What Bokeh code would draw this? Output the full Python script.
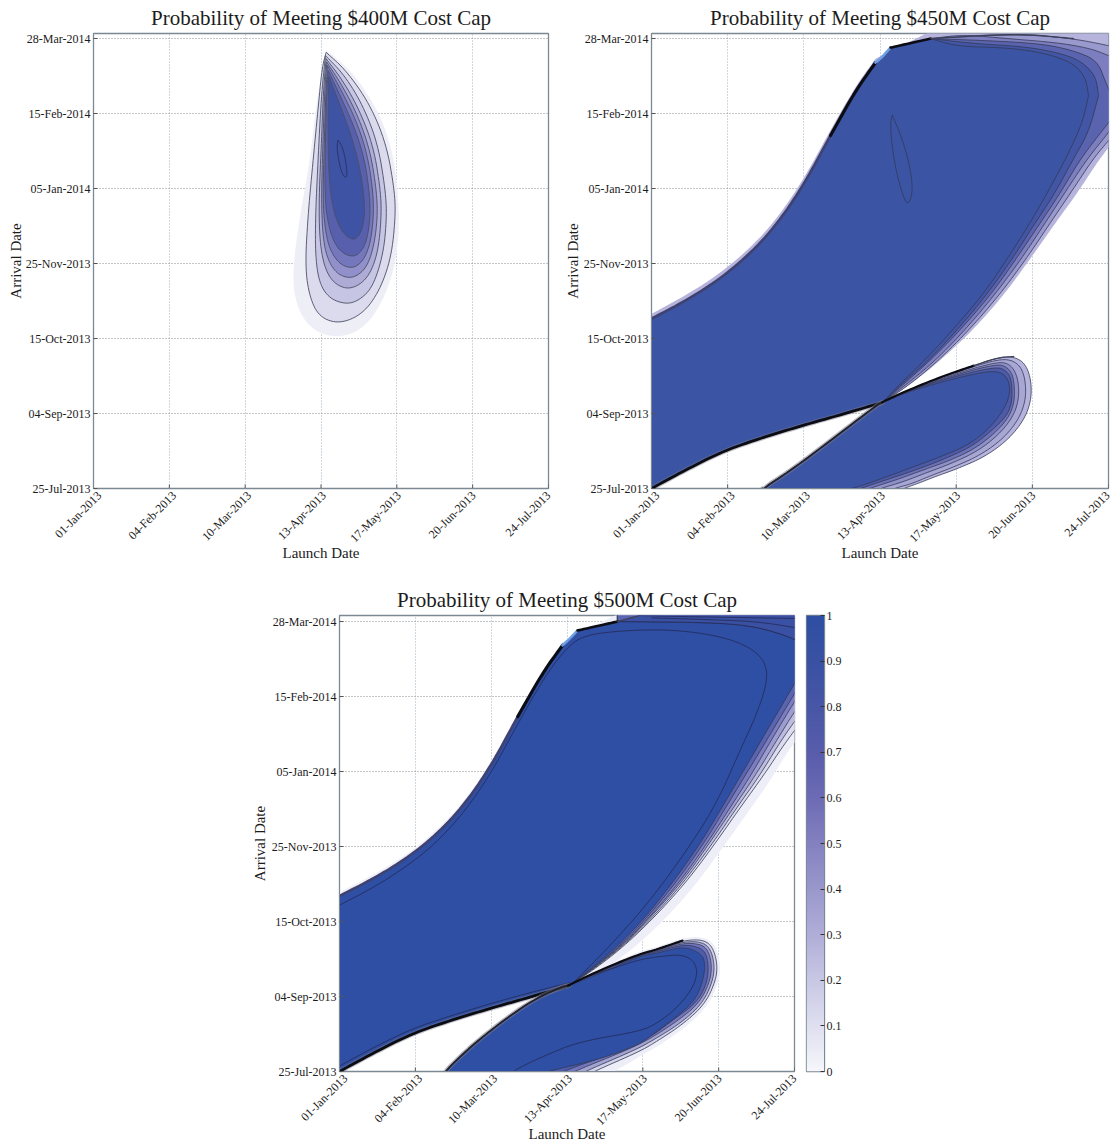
import math
import numpy as np
from bokeh.plotting import figure
from bokeh.layouts import column, row, Spacer
from bokeh.models import Range1d, FixedTicker, LinearColorMapper
from bokeh.embed import file_html
from bokeh.resources import INLINE

LAUNCH_TICKS = [0, 34, 68, 102, 136, 170, 204]
LAUNCH_LABELS = ["01-Jan-2013", "04-Feb-2013", "10-Mar-2013", "13-Apr-2013", "17-May-2013", "20-Jun-2013", "24-Jul-2013"]
ARRIVAL_TICKS = [0, 41, 82, 123, 164, 205, 246]
ARRIVAL_LABELS = ["25-Jul-2013", "04-Sep-2013", "15-Oct-2013", "25-Nov-2013", "05-Jan-2014", "15-Feb-2014", "28-Mar-2014"]
TITLES = ["Probability of Meeting $400M Cost Cap", "Probability of Meeting $450M Cost Cap", "Probability of Meeting $500M Cost Cap"]
CBAR_TICKS = [0, .1, .2, .3, .4, .5, .6, .7, .8, .9, 1]
CBAR_LABELS = ["0", "0.1", "0.2", "0.3", "0.4", "0.5", "0.6", "0.7", "0.8", "0.9", "1"]
CBAR_COLORS = ["#f6f6fb", "#dfdff0", "#c8c7e4", "#b0aed8", "#9a97cc", "#8481c1", "#6d6bb5", "#585cab", "#4856a6", "#3a51a3", "#2e4fa3"]

# ---- $400M: contours in (days after 01-Jan-2013, days after 25-Jul-2013), outer to inner
P400_HALO = [(104.3,239.5),(114.8,229.5),(126,210.4),(133.5,188.5),(136.9,159.4),(136.9,133.9),(132.7,110.3),(123.8,90.2),(111.8,82),(98.4,85.7),(90.9,99.3),(89.1,117.5),(92.4,148.5),(96.9,177.6),(99.8,210.4),(104.3,239.5)]
P400_C1 = [(104.3,238.5),(113.3,228.6),(123.8,210.4),(131.3,188.4),(135,162.9),(135.4,148.4),(133.5,126.4),(128.3,108.2),(120.8,95.5),(110.3,90),(101.3,93.7),(96.9,104.6),(94.9,121),(96.1,148.4),(98.3,177.5),(100.6,206.6),(102.5,230.3),(104.3,238.5)]
P400_C2 = [(104,236.8),(112.6,225.9),(120.8,209.5),(127.5,188.5),(130.9,163.1),(131.5,148.5),(130,128.5),(125.3,110.3),(119.3,103),(113.3,100.7),(105.8,103.9),(101.3,112.1),(99.5,126.6),(99.5,148.5),(100.6,177.6),(102.1,214),(104,236.8)]
P400_C3 = [(104.3,235),(111.8,223.1),(119.3,206.8),(125.6,186.7),(128.7,163.1),(129.1,148.5),(127.5,128.5),(123,114.8),(115.5,108.8),(108.8,111.2),(104.3,118.4),(101.6,132.1),(101,155.8),(102.1,186.7),(103.1,217.7),(104.3,235)]
P400_C4 = [(104.6,233.2),(111.5,220.4),(118.5,204),(124,184.9),(126.9,163.1),(127.4,148.5),(125.7,132.1),(122.3,120.3),(116.3,114.8),(110,116.6),(105.8,123),(103.1,133.9),(102.1,155.8),(102.8,186.7),(103.7,219.5),(104.6,233.2)]
P400_C5 = [(104.9,231.3),(111.1,217.7),(117.8,201.3),(122.7,183.1),(125.3,163.1),(125.6,148.5),(124.1,133.9),(121.1,124.8),(116.6,120.3),(111.1,122.1),(107,128.1),(104.3,137.6),(102.8,155.8),(103.4,186.7),(104.2,217.7),(104.9,231.3)]
P400_C6 = [(105.2,228.6),(110.6,214.9),(117,197.6),(121.5,180.4),(123.8,161.2),(124.1,148.5),(122.6,135.7),(120,129.4),(116.6,126.6),(111.8,128.5),(108.1,133.9),(105.5,143),(103.7,157.6),(103.9,186.7),(104.5,215.9),(105.2,228.6)]
P400_C7 = [(105.5,225.4),(110,211.3),(115.9,192.2),(119.7,174),(121.7,155.8),(121.2,144.8),(119.3,138.5),(116.6,135.7),(112.6,138.5),(109.1,145.8),(106.6,157.6),(105.4,174),(105.1,199.5),(105.5,225.4)]
P400_C8 = [(109.6,190.5),(111.6,187),(112.9,180.4),(113.8,172.2),(113.2,169.5),(111.2,172.5),(109.8,180.4),(109.1,186.7),(109.6,190.5)]
P400_FILLS = ["#dcdbee", "#c6c5e3", "#aeacd7", "#9290ca", "#7577bd", "#5860ae", "#3f53a4", "#3d52a4"]

# ---- shared edges of the feasible region
EDGE_OUT = [(-3,93),(0,95.5),(12.9,104),(26.3,114),(39.7,126.6),(53.1,143),(66.5,166),(79.9,196),(91.1,220),(100,235)]
EDGE = [(-3,91),(0,92.9),(12.9,101.1),(26.3,111),(39.7,123.6),(53.1,140),(66.5,162.9),(79.9,193),(91.1,217.6),(100,232.9),(102.7,235.6),(106.7,241.1),(124.6,246)]
LOWER = [(103.1,47),(85,40.5),(67.3,34.4),(50,28),(32.7,20.8),(15,10),(0,0),(-3,-2)]

# ---- $450M: main region, right-hand contours
R450_O = [(208,192.8),(204,186.4),(198.9,178.2),(190.2,161.8),(179.5,143.8),(169.2,125.8),(157.1,105.5),(143.3,86.4),(129,70),(115.6,56.9),(103.1,47)]
R450_1 = [(208,196),(204,190.2),(197.2,180.4),(188.4,164),(177.2,143.8),(167.4,125.8),(155.8,106.6),(142.4,87.5),(128.1,70),(114.7,56.3),(103.1,47)]
R450_2 = [(208,202),(204,194.6),(194.6,180.4),(185.7,164),(175,143.8),(165.2,125.8),(154,107.2),(140.6,87.5),(126.8,70),(113.8,56.9),(103.1,47)]
R450_3 = [(208,206),(204,200),(191.5,180.4),(182.6,161.8),(172.8,143.8),(162.9,125.8),(152.2,107.2),(139.3,88.6),(125.4,71.1),(112.9,57.4),(103.1,47)]
R450_4 = [(199.6,214.9),(195.1,194.6),(188.4,180.4),(179.5,160.2),(170.5,143.8),(161.2,125.8),(150.4,107.2),(137.9,88.6),(124.6,71.1),(112.5,58),(103.1,47)]
R450_5 = [(195.1,214.9),(192.4,200.1),(185.7,182.1),(176.8,161.8),(168.3,143.8),(158.9,125.8),(148.7,107.2),(136.2,89.1),(123.7,72.2),(111.6,58),(103.1,47)]
T450_O = [(124.6,250),(155,252),(208,252)]
T450_1 = [(124.6,246),(163.4,248.8),(188.4,246),(204,242.2),(208,241)]
T450_2 = [(124.6,246),(139.3,248.2),(158.9,246),(181.3,243.8),(196,240.6),(204,236.7),(208,235)]
T450_3 = [(124.6,246),(148.2,245),(173.7,243.3),(188.4,239.5),(199.1,234),(202.7,222),(208,208)]
T450_4 = [(124.6,246),(143.8,243.3),(166.1,241.7),(181.3,238.4),(191.5,234),(198.2,225.8),(199.6,214.9)]
T450_5 = [(124.6,246),(136.6,241.7),(158.9,241.1),(176.8,237.8),(188.4,232.4),(193.8,224.7),(195.1,214.9)]
P450_FILLS = ["#b6b4dc", "#9a99ce", "#7d7ebf", "#5a63ae", "#4256a5", "#3b54a3"]
P450_SPOT = [(107.5,204.3),(111.9,191.2),(114.9,178.4),(116.8,163.9),(114.9,155.1),(112.6,158.4),(108.9,174.8),(107,191.2),(106.7,200.3),(107.5,204.3)]
# $450M lower lobe
W450 = [(49.6,0),(49.6,-3),(49.6,0),(62.1,9.8),(79.9,26.2),(100.4,45.4),(103,47.2)]
L450_O = [(103,47.2),(114.2,53.6),(129,60.9),(143.9,67.2),(154.3,71.5),(161.7,72.2),(167,68.2),(169.5,59),(169.5,48.1),(166.2,37.2),(158.8,26.2),(148.4,17.1),(136.5,10.8),(126,6.2),(118.6,2.6),(112.5,0),(108,-3)]
L450_2 = [(103,47.2),(114.2,53.5),(129,60.7),(143.9,66.7),(154.3,70.4),(160.5,70.5),(165,66.5),(167,58.5),(167,48),(163.8,37.5),(156.8,27),(146.8,18.3),(135.5,12),(125,7.2),(116,2.5),(108,0),(104,-3)]
L450_3 = [(103,47.2),(114.2,53.4),(129,60),(143.9,65.8),(154.3,69),(158.8,68.6),(162,65),(163.9,58),(163.9,47.6),(160.8,38),(154.2,28.5),(145,20),(133.5,13.5),(122.5,8.5),(112,3.5),(102,0),(98,-3)]
L450_4 = [(103,47.2),(114.2,53.2),(129,59.5),(143.9,65),(154.3,67.8),(157.8,67),(160.8,63.5),(162,57),(162,47),(159.3,38.5),(153,30),(144,21.5),(132.5,15),(121,10),(110,5),(97,0),(93,-3)]
L450_5 = [(103,47.2),(114.2,53),(129,59),(143.9,64),(154.3,66.3),(157.5,65),(160,62),(161,55.5),(160.8,46.5),(158.5,39.5),(152,31.8),(143,23),(131.5,16.5),(120,11),(108,6),(93,0),(89,-3)]
L450_6 = [(105.2,48.1),(114.2,52.7),(129,58.1),(143.9,62.7),(154.3,64.5),(158.8,60.9),(160.3,53.6),(158,44.4),(151.3,33.5),(142.4,24.4),(130.5,18),(118.6,12.6),(106.7,7.1),(91.8,0.7),(88.8,0),(85,-3)]
L450_FILLS = ["#b6b4dc", "#a8a7d4", "#8f90c8", "#6d72b7", "#4c5aa8", "#3b54a3"]

# ---- $500M: main region
EDGE3_OUT = [(-3,96),(0,98),(12.9,106),(26.3,115.5),(39.7,127.5),(53.1,143.5),(66.5,166),(79.9,196),(91.1,220),(100,235)]
EDGE3 = [(-3,94),(0,96),(12.9,104),(26.3,113.5),(39.7,125.5),(53.1,141.5),(66.5,164),(79.9,194),(91.1,218),(100,233),(102.7,236),(106.7,241.1),(124.6,246)]
F500_0 = [(208,184),(204,180),(199.5,172),(192,157),(181.5,139),(171,121),(159,101),(145,82),(130.5,66),(117,54),(103.1,47)]
F500_1 = [(208,192.8),(204,186.4),(198.9,178),(190.2,162),(179.5,144),(169.2,126),(157.1,106),(143.3,87),(129,70),(115.6,57),(103.1,47)]
F500_2 = [(208,198),(204,191.4),(197.5,180),(188.5,162),(178,144),(168,126),(156,106),(142.5,87),(128.5,70),(115,57),(103.1,47)]
F500_3 = [(208,203),(204,196.8),(195.5,180),(186.5,162),(176.5,144),(166.5,126),(155,106),(141.5,87),(128,70),(114.5,57),(103.1,47)]
F500_4 = [(208,209),(204,202.3),(193,180),(184.5,162),(175,144),(165.5,126),(154,106),(141,87),(127.5,70),(114.3,57),(103.1,47)]
F500_5 = [(208,214),(204,206.7),(191,180),(182,162),(173,144),(164,126),(152.5,106),(140,87),(127,70),(114,57),(103.1,47)]
F500_6 = [(208,220),(204,212),(188.6,180),(180,162),(171.3,144),(162.5,126),(151,106),(139,87),(126,70),(113.5,57),(103.1,47)]
T500_0 = [(124.6,250),(155,252),(208,252)]
T500_4 = [(134.5,249.3),(149.3,248.8),(203.6,247.7),(208,247.5)]
T500_5 = [(140,248),(164.6,247.1),(187,246),(204,242.8),(208,241.5)]
T500_6 = [(124.6,246),(167.3,245.5),(187,243.3),(204,236.7),(208,233)]
T500_CAP = [(208,252),(136,252),(134.5,249.3),(124.6,246)]
P500_FILLS = ["#eeeef8", "#dcdcee", "#bdbcde", "#9d9cd0", "#7c7dc0", "#5a64b0", "#2e4fa3"]
C500_INNER = [(-3,89),(0,91),(12.9,99),(26.3,109),(39.7,121),(53.1,137.5),(66.5,160),(79.9,190),(91.1,214),(100,229),(108,238),(125,241),(149.3,241.7),(171.7,237.8),(185.2,231.3),(191.5,222.5),(191.5,211.6),(187,195.2),(179.4,175),(169.5,147.6),(157,123),(139,92.9),(121,68.3),(105.4,49.2)]
C500_LOWER = [(103,48.5),(85,43),(67.3,37),(50,30.5),(32.7,23.5),(15,13),(0,3),(-3,1)]
# $500M lower lobe
W500 = [(47,-3),(47,0),(62.8,18),(85.2,38.3),(100,46.5),(102.5,47)]
L500_H = [(102.5,47),(116,56),(134,65.5),(142.2,68),(153.8,73),(163,73.8),(168.5,69.5),(171,58.5),(170,48.5),(165,35.5),(155,24),(143,14),(135,8.5),(119,-3)]
L500_O = [(102.5,47),(116,55),(134,64),(142.2,66.7),(153.8,71.6),(162.8,72.2),(167.3,68.3),(169.5,58.5),(168.6,49.2),(163.7,36.6),(153.8,25.7),(142.2,16.4),(134.5,10.9),(114,0),(110,-3)]
L500_2 = [(102.5,47),(116,54.7),(134,63.6),(142.2,66.3),(153.8,70.9),(162,71),(166.2,67.5),(168.2,58.5),(167.3,49),(162.5,36.8),(152.8,26.3),(141,17.4),(133,12),(110,0),(106,-3)]
L500_3 = [(102.5,47),(116,54.4),(134,63.4),(142.2,65.9),(153.8,70.2),(161.3,69.8),(165.2,66.8),(167,58),(166,48.8),(161.2,37.2),(151.5,27.6),(140,18.5),(130.5,12.5),(105,0),(101,-3)]
L500_4 = [(102.5,47),(116,54),(134,63.2),(142.2,65.4),(153.8,69.4),(160.8,68.2),(164.3,65),(165.5,57.5),(164.8,48.5),(160.5,38),(150,28.5),(139,18.5),(126,11.5),(100,0),(96,-3)]
L500_6 = [(102.5,47),(116,53),(134,62.9),(143.5,65),(153.8,68.3),(160.5,65.6),(163.7,61.8),(163.7,53),(160.1,39.9),(152.5,31.2),(142.2,21.9),(134.5,14.8),(116.6,6.6),(92.8,0),(88,-3)]
L500_FILLS = ["#eeeef8", "#d2d2e8", "#a3a3d2", "#7577bd", "#4f5cab", "#2e4fa3"]
C500_LOBE = [(77.1,-3),(77.1,0),(91,8.2),(107.6,16.4),(134.5,21.9),(142.2,26.2),(151.1,34.4),(158.3,45.4),(160.5,53.6),(159.2,60.1),(153.8,64),(143.5,62.9),(134.5,61.2),(121,55.8),(107.6,50.3)]

FONT = "Liberation Serif"
LINE = "#343a58"
INK = "#1c1c1c"


def chaikin(pts, n=3):
    pts = [tuple(q) for q in pts]
    for _ in range(n):
        out = [pts[0]]
        for a, b in zip(pts[:-1], pts[1:]):
            out.append((.75 * a[0] + .25 * b[0], .75 * a[1] + .25 * b[1]))
            out.append((.25 * a[0] + .75 * b[0], .25 * a[1] + .75 * b[1]))
        out.append(pts[-1])
        pts = out
    return pts


def shape(p, chains, fill, line=LINE, lw=0.8):
    pts = []
    for c in chains:
        pts += chaikin(c)
    p.patch([q[0] for q in pts], [q[1] for q in pts], fill_color=fill, line_color=line, line_width=lw)


def stroke(p, pts, color, lw, alpha=1.0):
    s = chaikin(pts)
    p.line([q[0] for q in s], [q[1] for q in s], line_color=color, line_width=lw, line_alpha=alpha, line_cap="round")


def panel(title, frame_w, frame_h, y_end, left, right, top, bottom, xstand, ystand):
    p = figure(output_backend="svg", toolbar_location=None, frame_width=frame_w, frame_height=frame_h,
               x_range=Range1d(0, 204), y_range=Range1d(0, y_end), title=title,
               min_border_left=left, min_border_right=right, min_border_top=top, min_border_bottom=bottom,
               x_axis_label="Launch Date", y_axis_label="Arrival Date")
    p.title.align = "center"
    p.title.text_font = FONT
    p.title.text_font_size = "21px"
    p.title.text_font_style = "normal"
    p.title.text_color = INK
    p.title.standoff = 7
    p.outline_line_color = "#7c8894"
    p.outline_line_width = 1.3
    p.extra_x_ranges = {"labels": Range1d(-2.7, 204)}
    p.xaxis[0].x_range_name = "labels"
    for ax, ticks, labels in ((p.xaxis[0], LAUNCH_TICKS, LAUNCH_LABELS), (p.yaxis[0], ARRIVAL_TICKS, ARRIVAL_LABELS)):
        ax.ticker = FixedTicker(ticks=ticks)
        ax.major_label_overrides = dict(zip(ticks, labels))
        ax.major_label_text_font = FONT
        ax.major_label_text_font_size = "12px"
        ax.major_label_text_color = INK
        ax.axis_label_text_font = FONT
        ax.axis_label_text_font_size = "15px"
        ax.axis_label_text_font_style = "normal"
        ax.axis_label_text_color = INK
        ax.major_tick_in = 4
        ax.major_tick_out = 0
        ax.minor_tick_line_color = None
        ax.major_tick_line_color = "#555555"
        ax.axis_line_color = "#7c8894"
        ax.major_label_standoff = 3
    p.xaxis[0].major_tick_line_color = None
    p.xaxis[0].major_label_orientation = math.pi / 4
    p.xaxis[0].major_label_standoff = 5
    p.xaxis[0].axis_label_standoff = xstand
    p.yaxis[0].axis_label_standoff = ystand
    p.xgrid.grid_line_color = "#9db1c0"
    p.ygrid.grid_line_color = "#8c8c8c"
    for g in (p.xgrid, p.ygrid):
        g.grid_line_dash = "1 2"
        g.grid_line_width = 1
    p.xgrid[0].ticker = FixedTicker(ticks=LAUNCH_TICKS)
    p.segment(LAUNCH_TICKS, [0] * 7, LAUNCH_TICKS, [2.2] * 7, line_color="#555555", line_width=1)
    return p


p1 = panel(TITLES[0], 455, 455, 248.8, 93, 13, 25, 74, -8, -1)
shape(p1, [P400_HALO], "#eeeef7", None, 0)
for c, f in zip([P400_C1, P400_C2, P400_C3, P400_C4, P400_C5, P400_C6, P400_C7], P400_FILLS):
    shape(p1, [c], f, "#4a4f66", 0.9)
shape(p1, [P400_C8], P400_FILLS[7], "#23284a", 0.7)

p2 = panel(TITLES[1], 457, 455, 248.8, 87, 4, 25, 74, -8, 0)
shape(p2, [EDGE_OUT, T450_O, R450_O, LOWER], P450_FILLS[0], None, 0)
for r, t, f in zip([R450_1, R450_2, R450_3, R450_4, R450_5], [T450_1, T450_2, T450_3, T450_4, T450_5], P450_FILLS[1:]):
    shape(p2, [EDGE, t, r, LOWER], f)
shape(p2, [P450_SPOT], P450_FILLS[-1], LINE, 0.8)
for lobe, f in zip([L450_O, L450_2, L450_3, L450_4, L450_5, L450_6], L450_FILLS):
    shape(p2, [lobe, W450], f)


def edges(p, edge, wedge, top_run):
    stroke(p, edge[:8], "#3f4270", 2.6)
    stroke(p, edge[7:10], "#0c0c14", 3.2)
    stroke(p, edge[9:12], "#6f9fe2", 2.6)
    stroke(p, edge[11:13], "#0c0c14", 2.6)
    stroke(p, top_run, "#3c4058", 1.4)
    stroke(p, LOWER, "#77778c", 5, 0.45)
    stroke(p, LOWER, "#0c0c14", 2.8)
    stroke(p, wedge, "#77778c", 4.5, 0.55)
    stroke(p, wedge, "#22222c", 1.8)


edges(p2, EDGE, W450, T450_1[:3])
stroke(p2, L450_O[:4], "#0c0c14", 2.2)
stroke(p2, L450_O[3:6], "#3c4058", 1.2)

p3 = panel(TITLES[2], 455, 456, 249.3, 90, 6, 51, 67, -10, 1)
shape(p3, [EDGE3_OUT, T500_0, F500_0, LOWER], P500_FILLS[0], None, 0)
for r, t, f in zip([F500_1, F500_2, F500_3, F500_4, F500_5, F500_6],
                   [T500_0, T500_0, T500_0, T500_0, T500_0, T500_6], P500_FILLS[1:]):
    shape(p3, [EDGE3, t, r, LOWER], f)
shape(p3, [T500_6, T500_CAP], "#3a50a2", None, 0)
stroke(p3, T500_4, "#252a55", 0.8)
stroke(p3, T500_5, "#252a55", 0.8)
stroke(p3, T500_6, "#252a55", 0.8)
for lobe, f in zip([L500_H, L500_O, L500_2, L500_3, L500_4, L500_6], L500_FILLS):
    shape(p3, [lobe, W500], f, None if lobe is L500_H else LINE, 0 if lobe is L500_H else 0.8)
stroke(p3, C500_INNER, "#252a55", 0.8)
stroke(p3, C500_LOWER, "#252a55", 0.8)
stroke(p3, C500_LOBE, "#252a55", 0.8)
edges(p3, EDGE3, W500, [(124.6,246),(134.5,249.3)])
stroke(p3, L500_O[:5], "#0c0c14", 2.2)

# colour bar
nodes = np.linspace(0, 1, len(CBAR_COLORS))
rgb = np.array([[int(c[i:i + 2], 16) for i in (1, 3, 5)] for c in CBAR_COLORS], dtype=float)
palette = ["#%02x%02x%02x" % tuple(int(round(np.interp(t, nodes, rgb[:, k]))) for k in range(3))
           for t in np.linspace(0, 1, 256)]
cb = figure(output_backend="svg", toolbar_location=None, frame_width=18, frame_height=456,
            x_range=Range1d(0, 1), y_range=Range1d(0, 1), y_axis_location="right",
            min_border_left=6, min_border_right=30, min_border_top=51, min_border_bottom=67)
cb.image(image=[np.linspace(0, 1, 256).reshape(-1, 1)], x=0, y=0, dw=1, dh=1,
         color_mapper=LinearColorMapper(palette=palette, low=0, high=1))
cb.xaxis.visible = False
cb.grid.visible = False
cb.outline_line_color = "#7c8894"
cb.outline_line_width = 1.3
ax = cb.yaxis[0]
ax.ticker = FixedTicker(ticks=CBAR_TICKS)
ax.major_label_overrides = dict(zip(CBAR_TICKS, CBAR_LABELS))
ax.major_label_text_font = FONT
ax.major_label_text_font_size = "12px"
ax.major_label_text_color = INK
ax.major_tick_in = 4
ax.major_tick_out = 0
ax.minor_tick_line_color = None
ax.major_tick_line_color = "#333333"
ax.axis_line_color = "#7c8894"
ax.major_label_standoff = 2

page = column(row(p1, p2), row(Spacer(width=248, height=10), p3, cb))
open("out.html", "w").write(file_html(page, INLINE))
